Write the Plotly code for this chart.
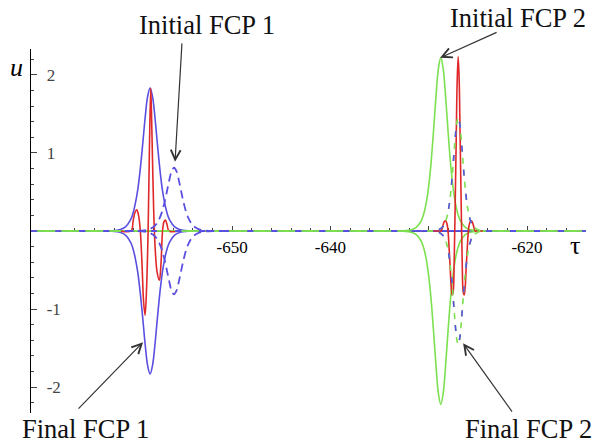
import plotly.graph_objects as go

# ---------------- data ----------------
TAU_RANGE = [-670.45, -614.0]
U_RANGE = [-2.33, 2.33]

# pulse centres (tau)
c_final1 = -658.34   # Final FCP 1  (blue solid envelope + red carrier)
c_init1 = -655.9     # Initial FCP 1 (blue dashed envelope)
c_init2 = -628.77    # Initial FCP 2 (green solid envelope)
c_final2 = -627.0    # Final FCP 2  (green dashed envelope + red carrier)

# envelope samples: offsets from the centre and heights
env_dt = [-5, -4, -3, -2.5, -2, -1.75, -1.5, -1.25, -1, -0.75, -0.5, -0.25, 0,
          0.25, 0.5, 0.75, 1, 1.25, 1.5, 1.75, 2, 2.5, 3, 4, 5]
final1_u = [0, 0.003, 0.02, 0.053, 0.138, 0.22, 0.35, 0.53, 0.79, 1.11, 1.45, 1.72, 1.83,
            1.72, 1.45, 1.11, 0.79, 0.53, 0.35, 0.22, 0.138, 0.053, 0.02, 0.003, 0]
init1_u = [0, 0.001, 0.009, 0.023, 0.061, 0.098, 0.154, 0.235, 0.35, 0.491, 0.642, 0.763, 0.81,
           0.763, 0.642, 0.491, 0.35, 0.235, 0.154, 0.098, 0.061, 0.023, 0.009, 0.001, 0]
init2_u = [0, 0.002, 0.016, 0.046, 0.128, 0.212, 0.347, 0.555, 0.857, 1.257, 1.703, 2.073, 2.22,
           2.073, 1.703, 1.257, 0.857, 0.555, 0.347, 0.212, 0.128, 0.046, 0.016, 0.002, 0]

final2_dt = [-3, -2.5, -2, -1.5, -1.25, -1, -0.8, -0.6, -0.45, -0.3, -0.15, 0,
             0.15, 0.3, 0.45, 0.6, 0.8, 1, 1.25, 1.5, 2, 2.5, 3]
final2_u = [0, 0.003, 0.015, 0.064, 0.133, 0.267, 0.447, 0.71, 0.952, 1.194, 1.38, 1.45,
            1.38, 1.194, 0.952, 0.71, 0.447, 0.267, 0.133, 0.064, 0.015, 0.003, 0]

# red carrier of Final FCP 1
red1_dt = [-3.0, -1.93, -1.73, -1.53, -1.35, -1.17, -0.99, -0.81, -0.66, -0.51, -0.36, -0.20,
           -0.07, 0.07, 0.20, 0.36, 0.51, 0.71, 0.95, 1.12, 1.27, 1.42, 1.56, 1.73, 1.93, 3.0]
red1_u = [0, 0.0, 0.12, 0.24, 0.27, 0.2, 0.0, -0.45, -0.9, -1.08, -0.75, 0.0,
          1.0, 1.83, 1.2, 0.3, -0.2, -0.52, -0.63, -0.4, 0.0, 0.12, 0.14, 0.08, 0.0, 0]

# red carrier of Final FCP 2
red2_dt = [-2.5, -1.93, -1.73, -1.63, -1.53, -1.42, -1.32, -1.22, -1.12, -1.02, -0.92, -0.81,
           -0.71, -0.61, -0.51, -0.41, -0.31, -0.20, -0.10, 0,
           0.10, 0.20, 0.31, 0.41, 0.51, 0.61, 0.71, 0.81, 0.92, 1.02, 1.12, 1.22, 1.32,
           1.42, 1.53, 1.63, 1.73, 1.93, 2.5]
red2_u = [0, 0, 0.0, 0.03, 0.08, 0.12, 0.13, 0.12, 0.08, -0.02, -0.23, -0.48,
          -0.72, -0.82, -0.78, -0.41, 0.30, 1.18, 1.93, 2.23,
          1.93, 1.18, 0.30, -0.41, -0.78, -0.82, -0.72, -0.48, -0.23, -0.02, 0.08, 0.12, 0.13,
          0.12, 0.08, 0.03, 0.0, 0, 0]

x_tickvals = [-650, -640, -630, -620]
x_ticktext = ["-650", "-640", "", "-620"]
u_tickvals = [-2, -1, 1, 2]
u_ticktext = ["-2", "-1", "1", "2"]

# ---------------- styling ----------------
BLUE = "#5a4fe0"
RED = "#e0282a"
GREEN = "#7ce050"
SERIF = "Liberation Serif, Times New Roman, serif"


def curve(center, dt, u, sign=1, extend=True):
    xs = [center + d for d in dt]
    ys = [sign * v for v in u]
    if extend:
        xs = [TAU_RANGE[0]] + xs + [TAU_RANGE[1]]
        ys = [0] + ys + [0]
    return xs, ys


fig = go.Figure()


def add(xs, ys, color, width=1.6, dash="solid"):
    fig.add_trace(go.Scatter(x=xs, y=ys, mode="lines",
                             line=dict(color=color, width=width, dash=dash, shape="spline"),
                             hoverinfo="skip"))


for s in (1, -1):
    add(*curve(c_final1, env_dt, final1_u, s), BLUE)
for s in (1, -1):
    add(*curve(c_init2, env_dt, init2_u, s), GREEN)
add(*curve(c_final1, red1_dt, red1_u, 1, extend=False), RED)
add(*curve(c_final2, red2_dt, red2_u, 1, extend=False), RED)
for s in (1, -1):
    add(*curve(c_final2, final2_dt, final2_u, s), GREEN, dash="6px,6px")
for s in (1, -1):
    add(*curve(c_final2, final2_dt, final2_u, s), BLUE, dash="6px,18px")
for s in (1, -1):
    add(*curve(c_init1, env_dt, init1_u, s, extend=False), BLUE, width=1.8, dash="8px,5px")

# ---------------- annotations ----------------
arrow_style = dict(showarrow=True, arrowhead=5, arrowsize=1.6, arrowwidth=1.2,
                   arrowcolor="#333333", text="", xref="x", yref="y")
fig.add_annotation(x=-655.80, y=0.885, ax=7, ay=-120, **arrow_style)
fig.add_annotation(x=-659.05, y=-1.423, ax=-66, ay=68, **arrow_style)
fig.add_annotation(x=-628.84, y=2.218, ax=58, ay=-26, **arrow_style)
fig.add_annotation(x=-626.50, y=-1.436, ax=50, ay=70, **arrow_style)

label_font = dict(family=SERIF, size=26.5, color="#111111")
for txt, x, y in [("Initial FCP 1", 0.318, 1.0646),
                  ("Initial FCP 2", 0.8775, 1.0865),
                  ("Final FCP 1", 0.0973, -0.0453),
                  ("Final FCP 2", 0.8955, -0.0453)]:
    fig.add_annotation(x=x, y=y, text=txt, showarrow=False, xref="paper", yref="paper",
                       xanchor="center", yanchor="middle", font=label_font)

fig.add_annotation(x=-0.027, y=0.9505, text="<i>u</i>", showarrow=False,
                   xref="paper", yref="paper", xanchor="center", yanchor="middle",
                   font=dict(family=SERIF, size=26, color="black"))
fig.add_annotation(x=0.980, y=0.4615, text="τ", showarrow=False,
                   xref="paper", yref="paper", xanchor="center", yanchor="middle",
                   font=dict(family=SERIF, size=26, color="black"))

fig.update_layout(
    width=594, height=444,
    margin=dict(l=31, r=8, t=49, b=31, autoexpand=False),
    paper_bgcolor="white", plot_bgcolor="white",
    showlegend=False,
    font=dict(family=SERIF, size=17, color="black"),
    xaxis=dict(range=TAU_RANGE, anchor="free", position=0.5, showline=True,
               linecolor="black", linewidth=1.2, ticks="inside", ticklen=5,
               tickvals=x_tickvals, ticktext=x_ticktext, showgrid=False, zeroline=False,
               layer="below traces", tickfont=dict(family=SERIF, size=17),
               automargin=False,
               minor=dict(dtick=2, ticklen=3, ticks="inside")),
    yaxis=dict(range=U_RANGE, showline=True, linecolor="black", linewidth=1.2,
               ticks="inside", ticklen=6, tickvals=u_tickvals, ticktext=u_ticktext,
               ticklabelposition="inside", ticklabelstandoff=10,
               showgrid=False, zeroline=False,
               layer="below traces", tickfont=dict(family=SERIF, size=17),
               automargin=False,
               minor=dict(dtick=0.2, ticklen=3, ticks="inside")),
)

fig.write_html("out.html", config={"displayModeBar": False},
               post_script="document.body.style.margin='0';document.body.style.overflow='hidden';")
